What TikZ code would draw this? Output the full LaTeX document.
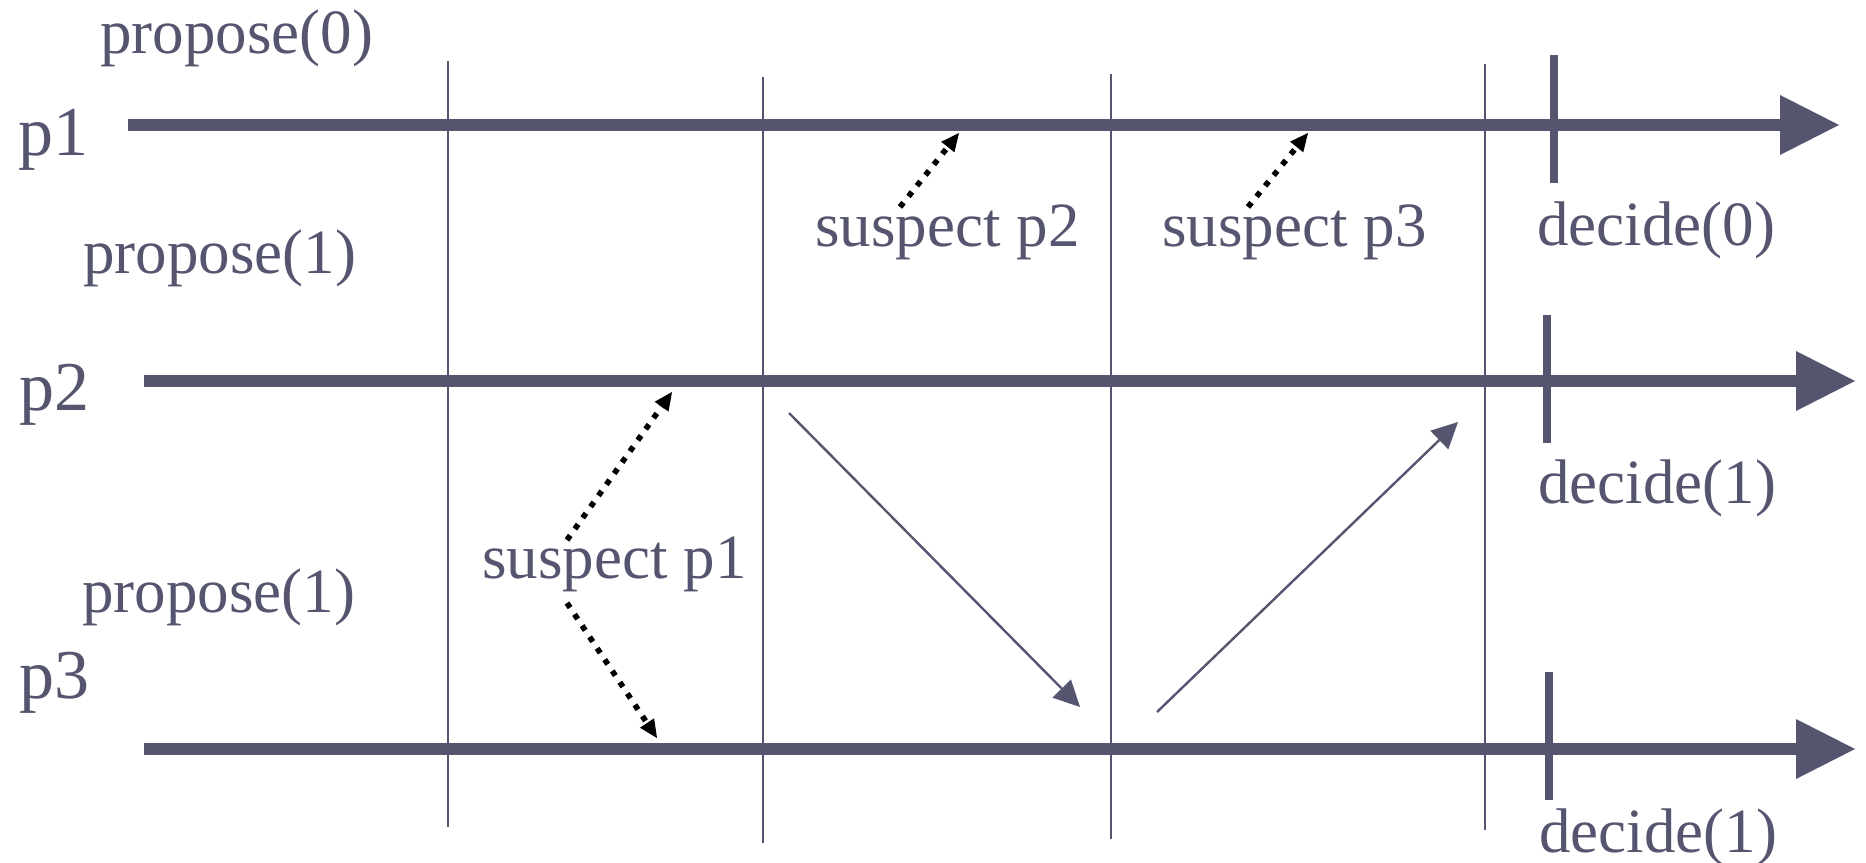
\documentclass[tikz,border=0pt]{standalone}
\usepackage{fontspec}
\setmainfont{Liberation Serif}
\usetikzlibrary{arrows.meta}
\definecolor{slate}{RGB}{85,85,112}

\begin{document}
\begin{tikzpicture}[x=0.5pt, y=-0.5pt,
				timeline/.style={line width=6pt, color=slate, -{Triangle[length=29.5pt, width=30pt, line width=0pt]}},
				roundsep/.style={line width=1pt, color=slate},
				decidetick/.style={line width=4pt, color=slate},
				msg/.style={line width=1.2pt, color=slate, -{Triangle[length=13pt, width=13pt, line width=0pt]}},
				suspicion/.style={line width=2.8pt, black, dash pattern=on 2.8pt off 4pt, -{Triangle[length=9pt, width=8.5pt, line width=0pt]}},
				lbl/.style={font=\fontsize{31.5}{36}\selectfont, text=slate, inner sep=0pt, anchor=base west},
				proc/.style={font=\fontsize{35}{40}\selectfont, text=slate, inner sep=0pt, anchor=base west}]
				\useasboundingbox (0,0) rectangle (1866,862);
				% Rundengrenzen
				\coordinate (r1top) at (448,61);   \coordinate (r1bot) at (448,827);
				\coordinate (r2top) at (763,77);   \coordinate (r2bot) at (763,843);
				\coordinate (r3top) at (1111,74);  \coordinate (r3bot) at (1111,839);
				\coordinate (r4top) at (1485,64);  \coordinate (r4bot) at (1485,830);
				\foreach \r in {1,2,3,4} \draw[roundsep] (r\r top) -- (r\r bot);
				% Zeitachsen der Prozesse
				\coordinate (p1start) at (128,125);  \coordinate (p1end) at (1839,125);
				\coordinate (p2start) at (144,381);  \coordinate (p2end) at (1855,381);
				\coordinate (p3start) at (144,749);  \coordinate (p3end) at (1855,749);
				\foreach \p in {1,2,3} \draw[timeline] (p\p start) -- (p\p end);
				% Entscheidungen
				\coordinate (d1top) at (1554,55);   \coordinate (d1bot) at (1554,183);
				\coordinate (d2top) at (1547,315);  \coordinate (d2bot) at (1547,443);
				\coordinate (d3top) at (1549,672);  \coordinate (d3bot) at (1549,800);
				\foreach \d in {1,2,3} \draw[decidetick] (d\d top) -- (d\d bot);
				% Beschriftung
				\node[proc] (lp1) at (18,155) {p1};
				\node[proc] (lp2) at (19,410) {p2};
				\node[proc] (lp3) at (19,698) {p3};
				\node[lbl] (prop1) at (100,54) {propose(0)};
				\node[lbl] (prop2) at (83,273) {propose(1)};
				\node[lbl] (prop3) at (82,612) {propose(1)};
				\node[lbl] (dec1) at (1537,245) {decide(0)};
				\node[lbl] (dec2) at (1538,503) {decide(1)};
				\node[lbl] (dec3) at (1539,852) {decide(1)};
				\node[lbl] (susp1) at (482,578) {suspect p1};
				\node[lbl] (susp2) at (815,246) {suspect p2};
				\node[lbl] (susp3) at (1162,246) {suspect p3};
				% Nachrichten
				\coordinate (m1from) at (789,413);   \coordinate (m1to) at (1080,707);
				\coordinate (m2from) at (1157,712);  \coordinate (m2to) at (1458,422);
				\draw[msg] (m1from) -- (m1to);
				\draw[msg] (m2from) -- (m2to);
				% Verdacht
				\coordinate (s1a) at (567,540);  \coordinate (s1ato) at (672,392);
				\coordinate (s1b) at (567,603);  \coordinate (s1bto) at (657,738);
				\coordinate (s2) at (900,207);   \coordinate (s2to) at (959,133);
				\coordinate (s3) at (1248,207);  \coordinate (s3to) at (1308,133);
				\draw[suspicion] (s1a) -- (s1ato);
				\draw[suspicion] (s1b) -- (s1bto);
				\draw[suspicion] (s2) -- (s2to);
				\draw[suspicion] (s3) -- (s3to);
\end{tikzpicture}
\end{document}
